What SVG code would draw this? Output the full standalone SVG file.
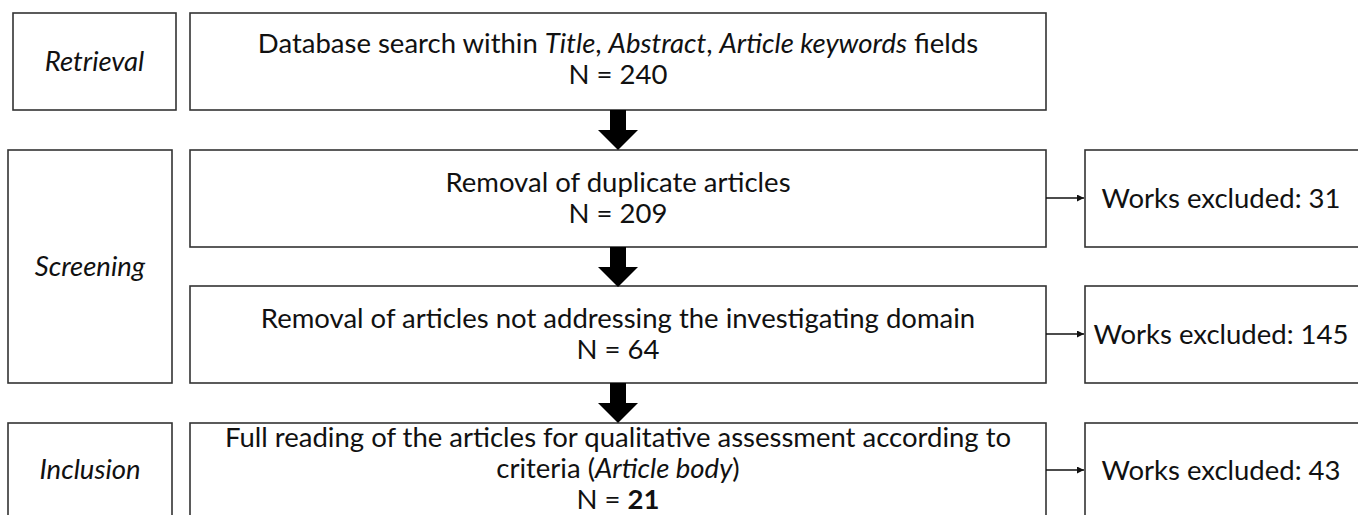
<svg xmlns="http://www.w3.org/2000/svg" width="1358" height="515" viewBox="0 0 1358 515">
<style>
.box{fill:#fff;stroke:#333;stroke-width:1.6}
.t{font-family:Lato,"Liberation Sans",sans-serif;font-size:27.5px;fill:#111;text-anchor:middle}
.i{font-style:italic}
.thin{stroke:#111;stroke-width:1.6;fill:none}
</style>
<defs>
<marker id="ah" viewBox="0 0 10 10" refX="10" refY="5" markerWidth="7" markerHeight="7" markerUnits="userSpaceOnUse" orient="auto"><path d="M0,0 L10,5 L0,10 z" fill="#111"/></marker>
<path id="big" d="M-8,0 H8 V20 H20 L0,40 L-20,20 H-8 z" fill="#000"/>
</defs>
<rect width="1358" height="515" fill="#fff"/>
<g id="retrieval"><rect class="box" x="13" y="13" width="163" height="97"/><text class="t i" x="94.5" y="71">Retrieval</text></g>
<g id="screening"><rect class="box" x="8" y="150" width="164" height="233"/><text class="t i" x="90" y="276">Screening</text></g>
<g id="inclusion"><rect class="box" x="8" y="423" width="164" height="100"/><text class="t i" x="90" y="479">Inclusion</text></g>
<g id="search"><rect class="box" x="190" y="13" width="856" height="97"/>
<text class="t" x="618" y="53">Database search within <tspan class="i">Title</tspan>, <tspan class="i">Abstract</tspan>, <tspan class="i">Article keywords</tspan> fields</text>
<text class="t" x="618" y="84">N = 240</text></g>
<g id="duplicates"><rect class="box" x="190" y="150" width="856" height="97"/>
<text class="t" x="618" y="192">Removal of duplicate articles</text>
<text class="t" x="618" y="223">N = 209</text></g>
<g id="domain"><rect class="box" x="190" y="286" width="856" height="97"/>
<text class="t" x="618" y="328">Removal of articles not addressing the investigating domain</text>
<text class="t" x="618" y="359">N = 64</text></g>
<g id="fullreading"><rect class="box" x="190" y="423" width="856" height="100"/>
<text class="t" x="618" y="447">Full reading of the articles for qualitative assessment according to</text>
<text class="t" x="618" y="478">criteria (<tspan class="i">Article body</tspan>)</text>
<text class="t" x="618" y="509">N = <tspan font-weight="bold">21</tspan></text></g>
<g id="excl31"><rect class="box" x="1085" y="150" width="276" height="97"/><text class="t" x="1221" y="208">Works excluded: 31</text></g>
<g id="excl145"><rect class="box" x="1085" y="286" width="276" height="97"/><text class="t" x="1221" y="344">Works excluded: 145</text></g>
<g id="excl43"><rect class="box" x="1085" y="423" width="276" height="100"/><text class="t" x="1221" y="480">Works excluded: 43</text></g>
<g id="connectors">
<use href="#big" x="618" y="110"/>
<use href="#big" x="618" y="247"/>
<use href="#big" x="618" y="383"/>
<line class="thin" x1="1046" y1="198" x2="1084" y2="198" marker-end="url(#ah)"/>
<line class="thin" x1="1046" y1="334" x2="1084" y2="334" marker-end="url(#ah)"/>
<line class="thin" x1="1046" y1="470" x2="1084" y2="470" marker-end="url(#ah)"/>
</g>
</svg>
